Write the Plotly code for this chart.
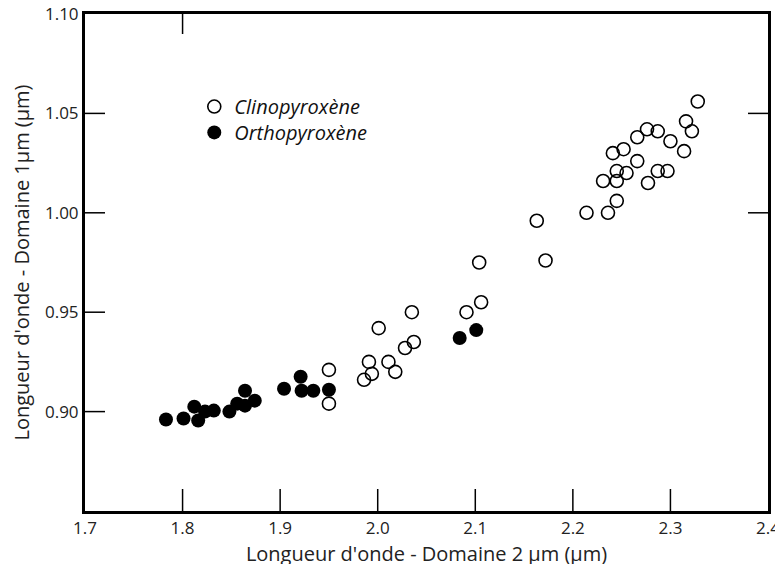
import plotly.graph_objects as go

# Clinopyroxène (open circles)
cpx_x = [1.950, 1.950, 1.986, 1.991, 1.994, 2.001, 2.011, 2.018, 2.028, 2.037,
         2.035, 2.091, 2.106, 2.104, 2.163, 2.172, 2.214, 2.236, 2.245, 2.231,
         2.245, 2.245, 2.255, 2.266, 2.241, 2.252, 2.266, 2.276, 2.287, 2.277,
         2.287, 2.297, 2.300, 2.314, 2.316, 2.322, 2.328]
cpx_y = [0.921, 0.904, 0.916, 0.925, 0.919, 0.942, 0.925, 0.920, 0.932, 0.935,
         0.950, 0.950, 0.955, 0.975, 0.996, 0.976, 1.000, 1.000, 1.006, 1.016,
         1.016, 1.021, 1.020, 1.026, 1.030, 1.032, 1.038, 1.042, 1.041, 1.015,
         1.021, 1.021, 1.036, 1.031, 1.046, 1.041, 1.056]

# Orthopyroxène (filled circles)
opx_x = [1.783, 1.801, 1.812, 1.816, 1.823, 1.832, 1.848, 1.856, 1.864, 1.864,
         1.874, 1.904, 1.921, 1.922, 1.934, 1.950, 2.084, 2.101]
opx_y = [0.896, 0.8965, 0.9025, 0.8955, 0.900, 0.9005, 0.900, 0.904, 0.903, 0.9105,
         0.9055, 0.9115, 0.9175, 0.9105, 0.9105, 0.911, 0.937, 0.941]

x_ticks = [1.7, 1.8, 1.9, 2.0, 2.1, 2.2, 2.3, 2.4]
y_ticks = [0.90, 0.95, 1.00, 1.05, 1.10]
extra_top_ticks = [1.8]
extra_right_ticks = [1.00, 1.05]

X_RANGE = [1.7, 2.4]
Y_RANGE = [0.85, 1.10]
PLOT_W, PLOT_H = 683, 497          # plot-area size in px
FONT = "Open Sans"

# tick-mark lengths converted from px to axis units
tx = 20 / PLOT_W * (X_RANGE[1] - X_RANGE[0])
ty_bottom = 22 / PLOT_H * (Y_RANGE[1] - Y_RANGE[0])
ty_top = 20 / PLOT_H * (Y_RANGE[1] - Y_RANGE[0])

tick_x, tick_y = [], []
for v in x_ticks[1:-1]:
    tick_x += [v, v, None]
    tick_y += [Y_RANGE[0], Y_RANGE[0] + ty_bottom, None]
for v in extra_top_ticks:
    tick_x += [v, v, None]
    tick_y += [Y_RANGE[1], Y_RANGE[1] - ty_top, None]
for v in y_ticks[:-1]:
    tick_x += [X_RANGE[0], X_RANGE[0] + tx, None]
    tick_y += [v, v, None]
for v in extra_right_ticks:
    tick_x += [X_RANGE[1], X_RANGE[1] - tx, None]
    tick_y += [v, v, None]

fig = go.Figure()
fig.add_trace(go.Scatter(
    x=tick_x, y=tick_y, mode="lines", showlegend=False, hoverinfo="skip",
    line=dict(color="black", width=1.5),
))
fig.add_trace(go.Scatter(
    x=cpx_x, y=cpx_y, mode="markers", name="Clinopyroxène", legend="legend",
    marker=dict(symbol="circle-open", size=13, color="black", line=dict(width=1.6)),
))
fig.add_trace(go.Scatter(
    x=opx_x, y=opx_y, mode="markers", name="Orthopyroxène", legend="legend2",
    marker=dict(symbol="circle", size=14, color="black", line=dict(width=0)),
))

legend_font = dict(family=FONT, size=20, style="italic", color="#111111")

# the page places the figure 8 px from the window's top-left corner
fig.update_layout(
    width=783, height=564,
    margin=dict(l=77, r=23, t=6, b=61, autoexpand=False),
    paper_bgcolor="white", plot_bgcolor="white",
    font=dict(family=FONT, color="#222222"),
    showlegend=True,
    legend=dict(x=0.16, y=0.853, xanchor="left", yanchor="top",
                bgcolor="rgba(0,0,0,0)", font=legend_font),
    legend2=dict(x=0.16, y=0.801, xanchor="left", yanchor="top",
                 bgcolor="rgba(0,0,0,0)", font=legend_font),
    xaxis=dict(range=X_RANGE, tickvals=x_ticks, tickformat=".1f",
               automargin=False, ticklabeloverflow="allow",
               showline=True, linecolor="black", linewidth=3, mirror=True,
               ticks="", showgrid=False, zeroline=False,
               tickfont=dict(size=17, color="#222222"),
               title=dict(text="Longueur d'onde - Domaine 2 µm (µm)",
                          font=dict(size=20, color="#222222"), standoff=9)),
    yaxis=dict(range=Y_RANGE, tickvals=y_ticks, tickformat=".2f",
               automargin=False, ticklabeloverflow="allow",
               showline=True, linecolor="black", linewidth=3, mirror=True,
               ticks="", showgrid=False, zeroline=False,
               tickfont=dict(size=17, color="#222222"),
               title=dict(text="Longueur d'onde - Domaine 1µm (µm)",
                          font=dict(size=20, color="#222222"), standoff=12)),
)

fig.write_html("out.html", config={"displayModeBar": False})
